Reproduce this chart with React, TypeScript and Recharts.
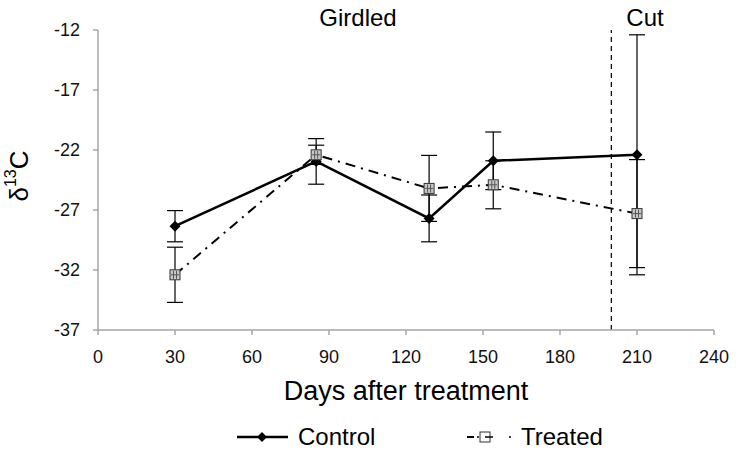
import { ComposedChart, Line, XAxis, YAxis, ErrorBar, ReferenceLine, Legend } from 'recharts'

const days = [30, 85, 129, 154, 210]
const controlValues = [-28.35, -22.95, -27.7, -22.9, -22.4]
const controlErrors = [1.3, 1.9, 1.95, 2.4, 10.0]
const treatedValues = [-32.4, -22.4, -25.2, -24.9, -27.3]
const treatedErrors = [2.3, 0.8, 2.75, 2.0, 4.5]
const xTicks = [0, 30, 60, 90, 120, 150, 180, 210, 240]
const yTicks = [-37, -32, -27, -22, -17, -12]

const data = days.map((d, i) => ({
    day: d,
    control: controlValues[i],
    controlErr: controlErrors[i],
    treated: treatedValues[i],
    treatedErr: treatedErrors[i],
}))

const FONT = 'Liberation Sans, Arial, sans-serif'

// eslint-disable-next-line @typescript-eslint/no-explicit-any
const Diamond = (props: any) => {
    const { cx, cy } = props
    if (cx == null || cy == null) return null
    return <path d={`M${cx},${cy - 5.5} L${cx + 5.5},${cy} L${cx},${cy + 5.5} L${cx - 5.5},${cy} Z`} fill="#000" />
}

// eslint-disable-next-line @typescript-eslint/no-explicit-any
const Square = (props: any) => {
    const { cx, cy } = props
    if (cx == null || cy == null) return null
    return (
        <g>
            <rect x={cx - 5} y={cy - 5} width={10} height={10} fill="#c8c8c8" stroke="#333" strokeWidth={1} />
            <line x1={cx - 1.5} y1={cy - 4} x2={cx - 1.5} y2={cy + 4} stroke="#555" strokeWidth={1} />
            <line x1={cx + 1.5} y1={cy - 4} x2={cx + 1.5} y2={cy + 4} stroke="#555" strokeWidth={1} />
            <line x1={cx - 4} y1={cy} x2={cx + 4} y2={cy} stroke="#555" strokeWidth={1} />
        </g>
    )
}

const legendText = { position: 'absolute', top: 0, lineHeight: '30px', fontFamily: FONT, fontSize: 24, color: '#000' } as const

const renderLegend = () => (
    <div style={{ position: 'relative', width: 738, height: 30 }}>
        <svg width={60} height={30} style={{ position: 'absolute', left: 235, top: 0 }}>
            <line x1={2} y1={15} x2={53} y2={15} stroke="#000" strokeWidth={2.5} />
            <path d="M27,10 L32,15 L27,20 L22,15 Z" fill="#000" />
        </svg>
        <span style={{ ...legendText, left: 298 }}>Control</span>
        <svg width={60} height={30} style={{ position: 'absolute', left: 463, top: 0 }}>
            <line x1={4} y1={15} x2={11} y2={15} stroke="#000" strokeWidth={2} />
            <circle cx={15} cy={15} r={1} fill="#000" />
            <rect x={17} y={10} width={10} height={10} fill="#fff" stroke="#333" strokeWidth={1} />
            <line x1={22} y1={15} x2={30} y2={15} stroke="#000" strokeWidth={1.5} />
            <circle cx={47} cy={15} r={1} fill="#000" />
        </svg>
        <span style={{ ...legendText, left: 521 }}>Treated</span>
    </div>
)

export default function App() {
    return (
        <div style={{ position: 'absolute', left: 0, top: 0, width: 738, height: 452, background: '#fff' }}>
            <ComposedChart
                width={738}
                height={452}
                data={data}
                margin={{ top: 30, right: 24, left: 38, bottom: 0 }}
            >
                <XAxis
                    dataKey="day"
                    type="number"
                    domain={[0, 240]}
                    ticks={xTicks}
                    interval={0}
                    height={92}
                    stroke="#a6a6a6"
                    strokeWidth={1.5}
                    tickSize={5}
                    tickMargin={15}
                    tick={{ fill: '#111', fontSize: 18, fontFamily: FONT }}
                    label={{ value: 'Days after treatment', position: 'insideBottom', offset: 22, fill: '#000', fontSize: 27, fontFamily: FONT }}
                />
                <YAxis
                    type="number"
                    domain={[-37, -12]}
                    ticks={yTicks}
                    interval={0}
                    width={60}
                    stroke="#a6a6a6"
                    strokeWidth={1.5}
                    tickSize={5}
                    tickMargin={13}
                    tick={{ fill: '#111', fontSize: 18, fontFamily: FONT }}
                    label={{
                        content: () => (
                            <text x={19} y={176} transform="rotate(-90 19 176)" textAnchor="middle" dominantBaseline="central" fontFamily={FONT} fontSize={26} fill="#000">
                                δ<tspan fontSize={16} dy={-9}>13</tspan><tspan dy={9}>C</tspan>
                            </text>
                        ),
                    }}
                />
                <ReferenceLine
                    x={200}
                    stroke="#000"
                    strokeDasharray="5 4"
                    strokeWidth={1.2}
                    ifOverflow="extendDomain"
                />
                <Line
                    dataKey="control"
                    name="Control"
                    stroke="#000"
                    strokeWidth={2.5}
                    dot={<Diamond />}
                    activeDot={false}
                    isAnimationActive={false}
                >
                    <ErrorBar dataKey="controlErr" width={8} stroke="#000" strokeWidth={1.2} direction="y" />
                </Line>
                <Line
                    dataKey="treated"
                    name="Treated"
                    stroke="#000"
                    strokeWidth={2}
                    strokeDasharray="10 6 2 6"
                    dot={<Square />}
                    activeDot={false}
                    isAnimationActive={false}
                >
                    <ErrorBar dataKey="treatedErr" width={8} stroke="#000" strokeWidth={1.2} direction="y" />
                </Line>
                <Legend verticalAlign="bottom" height={30} wrapperStyle={{ left: 0, width: 738 }} content={renderLegend} />
            </ComposedChart>
            <div style={{ position: 'absolute', left: 358, top: 18, transform: 'translate(-50%, -50%)', fontFamily: FONT, fontSize: 24, color: '#000', whiteSpace: 'nowrap' }}>Girdled</div>
            <div style={{ position: 'absolute', left: 645, top: 18, transform: 'translate(-50%, -50%)', fontFamily: FONT, fontSize: 24, color: '#000', whiteSpace: 'nowrap' }}>Cut</div>
        </div>
    )
}
